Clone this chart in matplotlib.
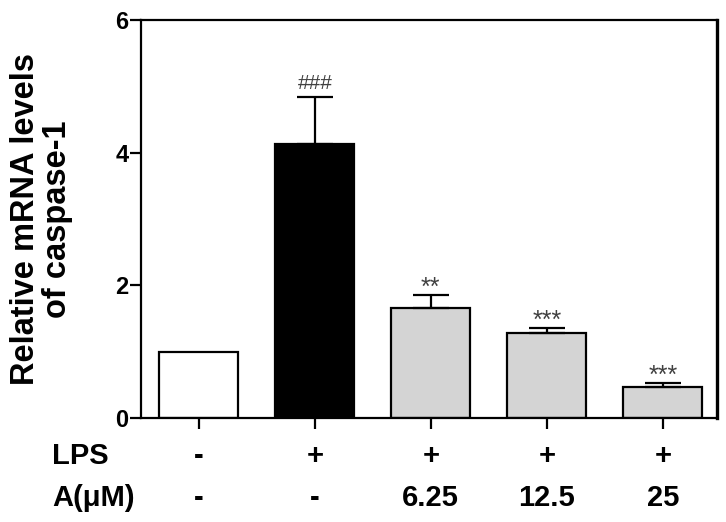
import matplotlib
matplotlib.use("Agg")
import matplotlib.pyplot as plt
from matplotlib.transforms import blended_transform_factory

plt.rcParams['font.family'] = ['Liberation Sans', 'DejaVu Sans']

# --- данные ---
values = [1.0, 4.13, 1.66, 1.28, 0.47]
errors = [0.0, 0.71, 0.195, 0.08, 0.06]
colors = ["white", "black", "#d4d4d4", "#d4d4d4", "#d4d4d4"]
marks = ["", "###", "**", "***", "***"]
lps_labels = ["-", "+", "+", "+", "+"]
dose_labels = ["-", "-", "6.25", "12.5", "25"]
yticks = [0, 2, 4, 6]

fig = plt.figure(figsize=(7.26, 5.22), dpi=100)
ax = fig.add_axes([0.194, 0.199, 0.794, 0.763])

x = list(range(len(values)))
ax.bar(x, values, width=0.68, color=colors, edgecolor="black", linewidth=1.6, zorder=2)
for xi, v, e in zip(x, values, errors):
    if e > 0:
        ax.errorbar(xi, v, yerr=[[0], [e]], fmt="none", ecolor="black",
                    elinewidth=1.6, capsize=13, capthick=1.6, zorder=3)

# значки значимости
for xi, v, e, m in zip(x, values, errors, marks):
    if not m:
        continue
    if m.startswith("#"):
        ax.text(xi, v + e + 0.2, m, ha="center", va="center",
                fontsize=15, color="#404040")
    else:
        ax.text(xi, v + e + 0.11, m, ha="center", va="center",
                fontsize=18, color="#404040")

ax.set_xlim(-0.5, 4.47)
ax.set_ylim(0, 6)
ax.set_yticks(yticks)
ax.set_yticklabels([str(t) for t in yticks], fontsize=17, fontweight="bold")
ax.set_xticks(x)
ax.set_xticklabels([])
ax.tick_params(axis="x", direction="out", length=8, width=1.6)
ax.tick_params(axis="y", direction="out", length=8, width=1.6, pad=1)
for s in ax.spines.values():
    s.set_linewidth(1.6)
ax.spines["right"].set_linewidth(2.4)

ax.set_ylabel("Relative mRNA levels\nof caspase-1", fontsize=23.5,
              fontweight="bold", linespacing=1.05)
ax.yaxis.label.set_va("center")
ax.yaxis.set_label_coords(-0.173, 0.5)

# подписи групп под осью
trans = blended_transform_factory(ax.transData, ax.transAxes)
row_lps = -0.096
row_dose = -0.2
x_left = -0.5 - 89 / 116
ax.text(x_left, row_lps, "LPS", transform=trans, ha="left", va="center",
        fontsize=21, fontweight="bold")
ax.text(x_left, row_dose, "A(\u03bcM)", transform=trans, ha="left", va="center",
        fontsize=21, fontweight="bold")
for xi, a, b in zip(x, lps_labels, dose_labels):
    ax.text(xi, row_lps, a, transform=trans, ha="center", va="center",
            fontsize=21, fontweight="bold")
    ax.text(xi, row_dose, b, transform=trans, ha="center", va="center",
            fontsize=21, fontweight="bold")

fig.savefig("out.png", dpi=100)
